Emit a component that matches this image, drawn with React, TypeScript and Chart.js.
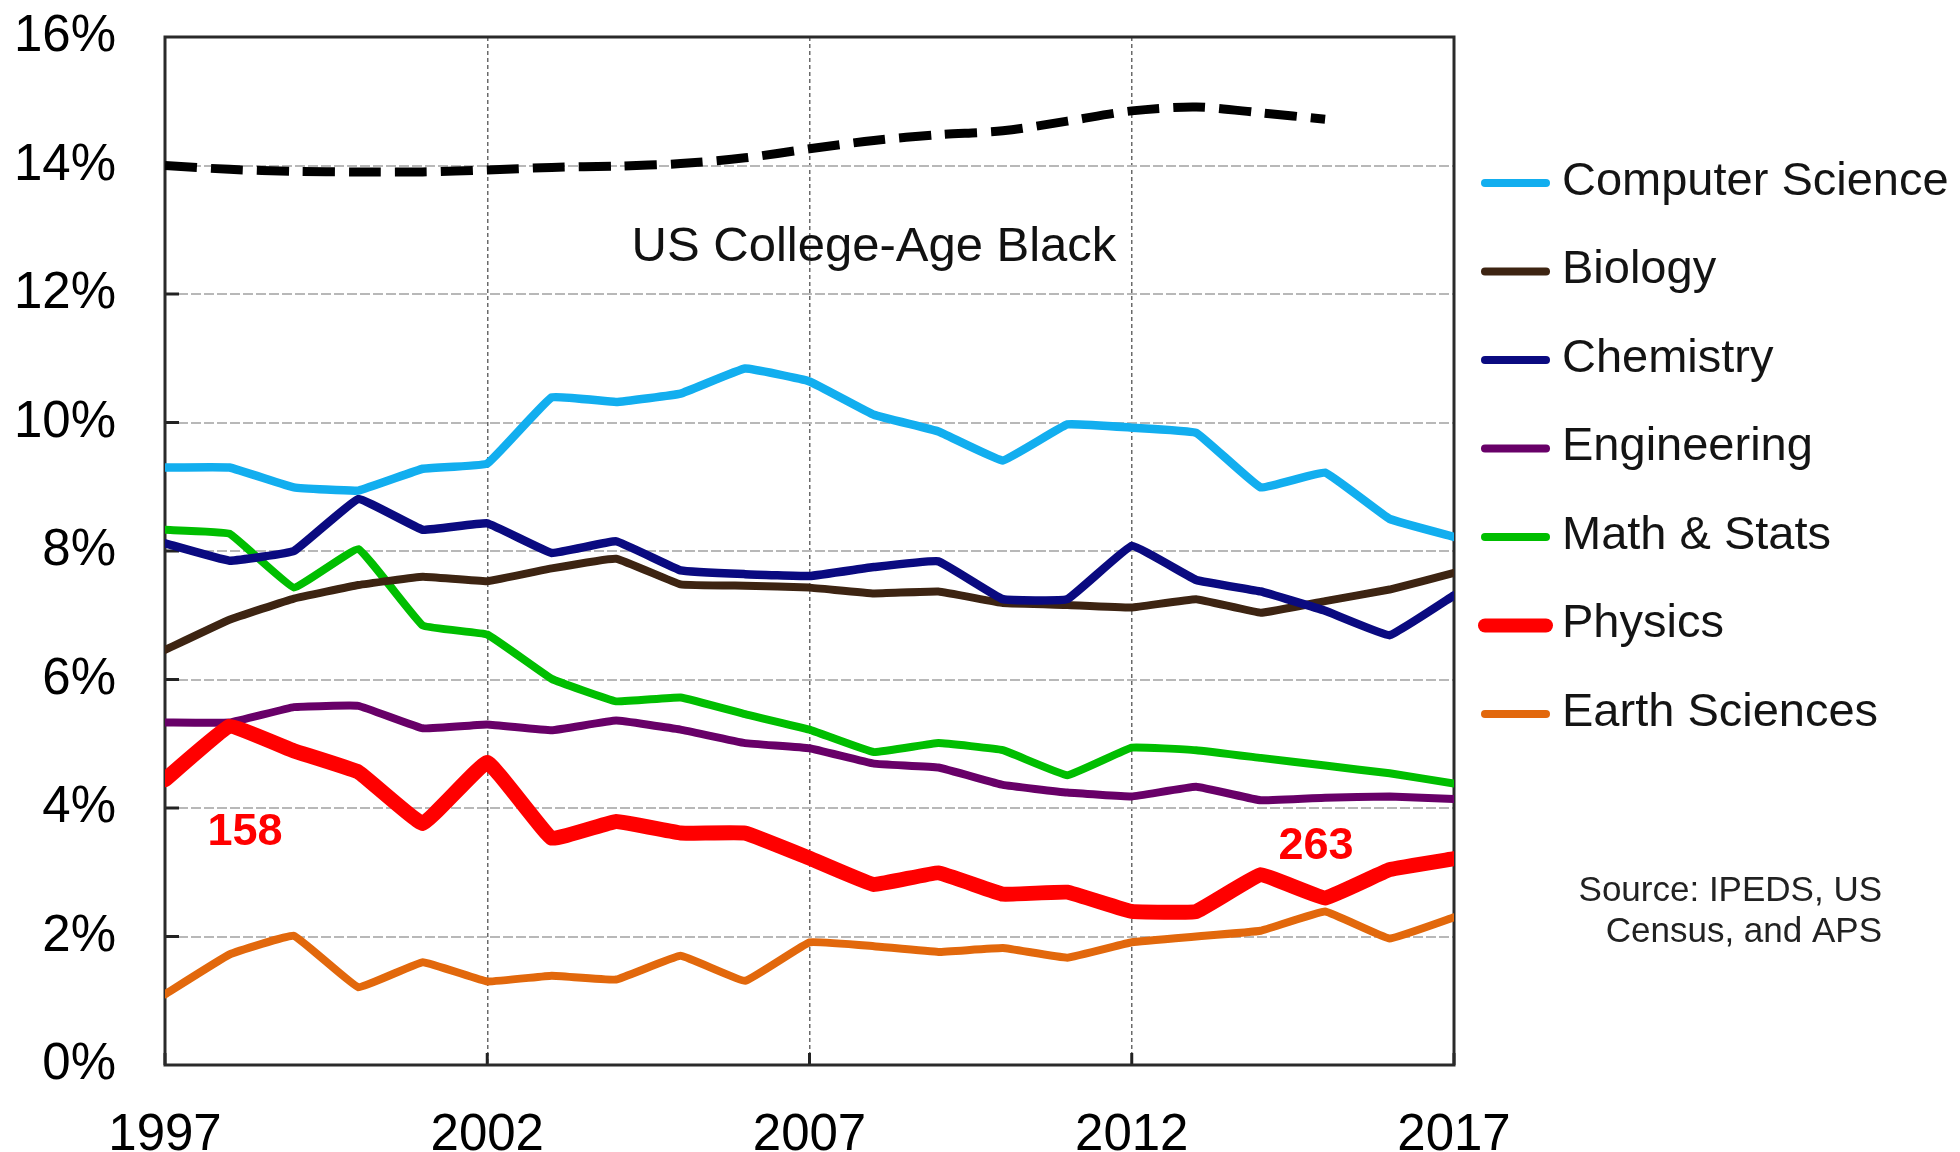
import React, { useEffect, useRef } from 'react';
import { Chart, registerables } from 'chart.js';

Chart.register(...registerables);

// ---------- data ----------
const years = [1997, 1998, 1999, 2000, 2001, 2002, 2003, 2004, 2005, 2006, 2007, 2008, 2009, 2010, 2011, 2012, 2013, 2014, 2015, 2016, 2017];
const xTickYears = [1997, 2002, 2007, 2012, 2017];

const usCollegeAgeBlack = [14.0, 13.94, 13.91, 13.9, 13.9, 13.93, 13.97, 13.99, 14.03, 14.12, 14.26, 14.39, 14.48, 14.54, 14.69, 14.85, 14.91, 14.82, 14.72, null, null];
const computerScience = [9.3, 9.3, 8.99, 8.94, 9.28, 9.36, 10.39, 10.32, 10.45, 10.84, 10.64, 10.12, 9.86, 9.41, 9.97, 9.92, 9.84, 8.99, 9.22, 8.5, 8.22];
const biology = [6.46, 6.93, 7.26, 7.47, 7.6, 7.53, 7.73, 7.88, 7.48, 7.46, 7.43, 7.34, 7.37, 7.19, 7.16, 7.12, 7.25, 7.04, 7.22, 7.4, 7.66];
const chemistry = [8.12, 7.85, 8.0, 8.81, 8.33, 8.43, 7.97, 8.15, 7.7, 7.64, 7.61, 7.75, 7.84, 7.25, 7.25, 8.08, 7.55, 7.37, 7.07, 6.69, 7.31];
const engineering = [5.33, 5.33, 5.57, 5.59, 5.24, 5.3, 5.21, 5.36, 5.22, 5.01, 4.93, 4.69, 4.63, 4.36, 4.24, 4.18, 4.33, 4.12, 4.16, 4.18, 4.14];
const mathStats = [8.33, 8.27, 7.43, 8.03, 6.84, 6.7, 6.01, 5.66, 5.72, 5.46, 5.22, 4.87, 5.01, 4.9, 4.51, 4.94, 4.9, 4.78, 4.66, 4.54, 4.38];
const physics = [4.44, 5.27, 4.89, 4.56, 3.76, 4.71, 3.53, 3.79, 3.61, 3.61, 3.22, 2.81, 2.99, 2.66, 2.69, 2.39, 2.39, 2.96, 2.6, 3.04, 3.21];
const earthSciences = [1.1, 1.72, 2.01, 1.21, 1.6, 1.3, 1.39, 1.33, 1.7, 1.31, 1.91, 1.85, 1.76, 1.82, 1.67, 1.91, 2.0, 2.09, 2.39, 1.97, 2.3];

const legendNames = ['Computer Science', 'Biology', 'Chemistry', 'Engineering', 'Math & Stats', 'Physics', 'Earth Sciences'];
const legendColors = ['#12AEEF', '#3D2412', '#0A0A80', '#680068', '#00BE00', '#FF0000', '#E2680C'];
const legendWidths = [8, 8, 8, 8, 8, 14, 8];

const annotationTitle = 'US College-Age Black';
const physicsStartLabel = '158';
const physicsEndLabel = '263';
const sourceLines = ['Source: IPEDS, US', 'Census, and APS'];

const FONT = "'Liberation Sans', Arial, Helvetica, sans-serif";

const overlayPlugin = {
  id: 'overlay',
  beforeDatasetsDraw(chart: any) {
    const { ctx, chartArea } = chart;
    const xs = chart.scales.x;
    const ys = chart.scales.y;
    ctx.save();
    // inward tick marks
    ctx.strokeStyle = '#222';
    ctx.lineWidth = 3;
    for (let v = 2; v < 16; v += 2) {
      const y = ys.getPixelForValue(v);
      ctx.beginPath();
      ctx.moveTo(chartArea.left, y);
      ctx.lineTo(chartArea.left + 14, y);
      ctx.stroke();
    }
    for (const yr of xTickYears) {
      const x = xs.getPixelForValue(yr);
      ctx.beginPath();
      ctx.moveTo(x, chartArea.bottom);
      ctx.lineTo(x, chartArea.bottom - 12);
      ctx.stroke();
    }
    // frame
    ctx.strokeStyle = '#2a2a2a';
    ctx.lineWidth = 3;
    ctx.strokeRect(chartArea.left, chartArea.top, chartArea.right - chartArea.left, chartArea.bottom - chartArea.top);
    ctx.restore();
  },
  afterDraw(chart: any) {
    const { ctx, chartArea } = chart;
    const xs = chart.scales.x;
    const ys = chart.scales.y;
    ctx.save();
    // annotation title
    ctx.fillStyle = '#111';
    ctx.font = `49px ${FONT}`;
    ctx.textAlign = 'center';
    ctx.textBaseline = 'middle';
    ctx.fillText(annotationTitle, xs.getPixelForValue(2008.0), ys.getPixelForValue(12.72));
    // physics counts
    ctx.fillStyle = '#FF0000';
    ctx.font = `bold 45px ${FONT}`;
    ctx.fillText(physicsStartLabel, xs.getPixelForValue(1998.24), ys.getPixelForValue(3.62));
    ctx.fillText(physicsEndLabel, xs.getPixelForValue(2014.86), ys.getPixelForValue(3.4));

    // legend
    const lx0 = chartArea.right + 31;
    const lx1 = chartArea.right + 92;
    const tx = chartArea.right + 108;
    const rowTop = 183;
    const rowGap = 88.5;
    ctx.textAlign = 'left';
    ctx.textBaseline = 'middle';
    ctx.font = `47px ${FONT}`;
    legendNames.forEach((name, i) => {
      const y = rowTop + i * rowGap;
      ctx.strokeStyle = legendColors[i];
      ctx.lineWidth = legendWidths[i];
      ctx.lineCap = 'round';
      ctx.beginPath();
      ctx.moveTo(lx0, y);
      ctx.lineTo(lx1, y);
      ctx.stroke();
      ctx.fillStyle = '#141414';
      ctx.fillText(name, tx, y - 1);
    });
    // source
    ctx.textAlign = 'right';
    ctx.font = `35px ${FONT}`;
    ctx.fillStyle = '#222';
    ctx.fillText(sourceLines[0], 1882, 891);
    ctx.fillText(sourceLines[1], 1882, 932);
    ctx.restore();
  },
};

export default function App() {
  const ref = useRef<HTMLCanvasElement | null>(null);

  useEffect(() => {
    if (!ref.current) return;
    const solid = (label: string, data: any[], color: string, width: number, order: number) => ({
      label,
      data,
      borderColor: color,
      backgroundColor: color,
      borderWidth: width,
      pointRadius: 0,
      tension: 0.08,
      borderJoinStyle: 'round',
      borderCapStyle: 'round',
      fill: false,
      order,
    });
    const chart = new Chart(ref.current, {
      type: 'line',
      data: {
        labels: years,
        datasets: [
          {
            label: annotationTitle,
            data: usCollegeAgeBlack,
            borderColor: '#000',
            borderWidth: 9,
            borderDash: [32, 14],
            pointRadius: 0,
            tension: 0.3,
            fill: false,
            spanGaps: false,
            order: 0,
          },
          solid('Physics', physics, legendColors[5], 15, 1),
          solid('Computer Science', computerScience, legendColors[0], 8.5, 2),
          solid('Chemistry', chemistry, legendColors[2], 8.5, 3),
          solid('Biology', biology, legendColors[1], 8, 4),
          solid('Math & Stats', mathStats, legendColors[4], 8, 5),
          solid('Engineering', engineering, legendColors[3], 8, 6),
          solid('Earth Sciences', earthSciences, legendColors[6], 8, 7),
        ] as any,
      },
      options: {
        responsive: false,
        animation: false,
        layout: { padding: { left: 0, top: 37, right: 506, bottom: 0 } },
        plugins: { legend: { display: false }, tooltip: { enabled: false } },
        elements: { point: { radius: 0 } },
        scales: {
          x: {
            type: 'linear',
            min: 1997,
            max: 2017,
            afterBuildTicks: (s: any) => {
              s.ticks = xTickYears.map((v) => ({ value: v }));
            },
            afterFit: (s: any) => {
              s.height = 87;
              s.paddingLeft = 0;
              s.paddingRight = 0;
            },
            ticks: {
              autoSkip: false,
              maxRotation: 0,
              padding: 40,
              color: '#000',
              font: { family: FONT, size: 51 },
              callback: (v: any) => String(v),
            },
            grid: { color: '#6a6a6a', lineWidth: 1.5, drawTicks: false },
            border: { display: false, dash: [4, 3] },
          },
          y: {
            min: 0,
            max: 16,
            afterFit: (s: any) => {
              s.width = 165;
              s.paddingTop = 0;
              s.paddingBottom = 0;
            },
            ticks: {
              stepSize: 2,
              padding: 49,
              color: '#000',
              font: { family: FONT, size: 51 },
              callback: (v: any) => `${v}%`,
            },
            grid: { color: '#b8b8b8', lineWidth: 2, drawTicks: false },
            border: { display: false, dash: [10, 3] },
          },
        },
      } as any,
      plugins: [overlayPlugin],
    });
    return () => chart.destroy();
  }, []);

  return (
    <div style={{ position: 'absolute', left: 0, top: 0, width: 1960, height: 1152, background: '#fff' }}>
      <canvas ref={ref} width={1960} height={1152} style={{ width: 1960, height: 1152, display: 'block' }} />
    </div>
  );
}
